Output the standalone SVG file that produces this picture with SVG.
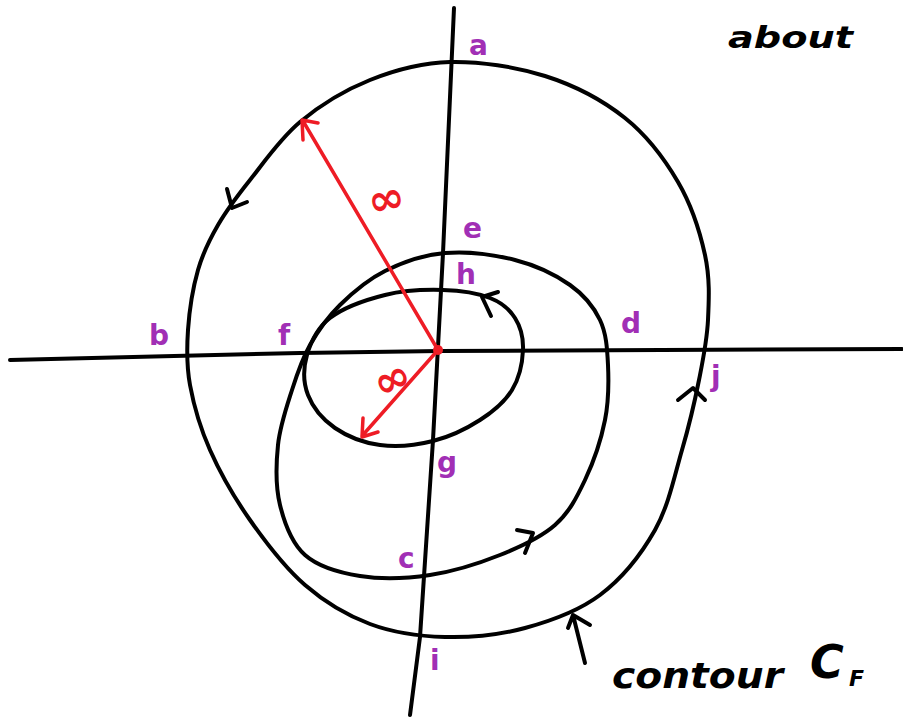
<svg xmlns="http://www.w3.org/2000/svg" width="903" height="719" viewBox="0 0 903 719">
<style>
.k{fill:none;stroke:#000;stroke-width:4;stroke-linecap:round;stroke-linejoin:round}
.r{fill:none;stroke:#ee1c25;stroke-width:3.5;stroke-linecap:round;stroke-linejoin:round}
.lbl{font-family:"DejaVu Sans","Liberation Sans",sans-serif;font-weight:bold;font-size:28px;fill:#a12fb5}
.hand{font-family:"DejaVu Sans","Liberation Sans",sans-serif;font-style:italic;font-weight:bold;fill:#000}
.rl{font-family:"DejaVu Sans",sans-serif;font-weight:bold;font-size:44px;fill:#ee1c25}
</style>
<rect width="903" height="719" fill="#fff"/>
<g id="axes">
<path class="k" d="M10,360 L300,353 L440,351 L902,349"/>
<path class="k" d="M454,8 L443,253 L433,440 L420,637 L410,715"/>
</g>
<g id="connectors">
<path id="outer" class="k" d="M450,62 C479.2,61.3 515.8,66.7 545,76 C574.2,85.3 602.8,100.3 625,118 C647.2,135.7 664.7,159.2 678,182 C691.3,204.8 700,232 705,255 C710,278 709,299.2 708,320 C707,340.8 703.3,358.3 699,380 C694.7,401.7 689.3,425 682,450 C674.7,475 668.7,505.8 655,530 C641.3,554.2 621.7,578.7 600,595 C578.3,611.3 550.8,621 525,628 C499.2,635 470.8,637.7 445,637 C419.2,636.3 393.3,632.7 370,624 C346.7,615.3 325,602.3 305,585 C285,567.7 265.8,542.5 250,520 C234.2,497.5 220,472.5 210,450 C200,427.5 193.7,405 190,385 C186.3,365 186.7,349.2 188,330 C189.3,310.8 193,287.5 198,270 C203,252.5 209.3,240 218,225 C226.7,210 236.3,197.2 250,180 C263.7,162.8 280,138.7 300,122 C320,105.3 345,90 370,80 C395,70 420.8,62.7 450,62 Z"/>
<path id="middle" class="k" d="M445,253 C466.7,251.2 494.2,254.7 515,260 C535.8,265.3 555.8,275 570,285 C584.2,295 593.7,306.7 600,320 C606.3,333.3 607.2,348.3 608,365 C608.8,381.7 608.8,400.8 605,420 C601.2,439.2 593.3,462.5 585,480 C576.7,497.5 569.2,512.5 555,525 C540.8,537.5 520.8,546.7 500,555 C479.2,563.3 453.3,571.5 430,575 C406.7,578.5 380.8,579.3 360,576 C339.2,572.7 318.3,566.8 305,555 C291.7,543.2 284.5,523.3 280,505 C275.5,486.7 276,464.2 278,445 C280,425.8 286.7,406.7 292,390 C297.3,373.3 302,359.2 310,345 C318,330.8 327.5,317.3 340,305 C352.5,292.7 367.5,279.7 385,271 C402.5,262.3 423.3,254.8 445,253 Z"/>
<path id="inner" class="k" d="M443,290 C460.5,290.5 478,293.3 490,298 C502,302.7 509.5,309.3 515,318 C520.5,326.7 523.5,338 523,350 C522.5,362 519.2,378.3 512,390 C504.8,401.7 493.2,411.5 480,420 C466.8,428.5 449.7,436.8 433,441 C416.3,445.2 396.3,447.2 380,445 C363.7,442.8 347,436.3 335,428 C323,419.7 312.7,407.2 308,395 C303.3,382.8 303.3,367.8 307,355 C310.7,342.2 317,328 330,318 C343,308 366.2,299.7 385,295 C403.8,290.3 425.5,289.5 443,290 Z"/>
<path class="k" d="M227,189 L232,208 L247,202"/>
<path class="k" d="M498,292 L482,297 L491,316"/>
<path class="k" d="M517,530 L533,533 L525,553"/>
<path class="k" d="M678,400 L693,388 L705,400"/>
<path class="k" d="M585,663 L573,615 M568,628 L573,615 L590,625"/>
</g>
<g id="radii">
<path class="r" d="M438,350 L303,121 M303,140 L302,120 L318,123"/>
<path class="r" d="M438,350 L362,436 M363,418 L362,437 L378,432"/>
<circle cx="438" cy="350" r="5" fill="#ee1c25"/>
<text class="rl" x="368" y="214" transform="rotate(-12 385 200)">∞</text>
<text class="rl" x="374" y="394" transform="rotate(-25 392 380)">∞</text>
</g>
<g id="labels">
<text class="lbl" x="469" y="55">a</text>
<text class="lbl" x="463" y="238">e</text>
<text class="lbl" x="456" y="284">h</text>
<text class="lbl" x="149" y="345">b</text>
<text class="lbl" x="278" y="345">f</text>
<text class="lbl" x="621" y="333">d</text>
<text class="lbl" x="711" y="386">j</text>
<text class="lbl" x="437" y="472">g</text>
<text class="lbl" x="398" y="568">c</text>
<text class="lbl" x="430" y="670">i</text>
</g>
<g id="notes">
<text class="hand" x="728" y="48" font-size="30" textLength="125" lengthAdjust="spacingAndGlyphs">about</text>
<text class="hand" x="612" y="688" font-size="36" textLength="171" lengthAdjust="spacingAndGlyphs">contour</text>
<text class="hand" x="810" y="678" font-size="46">C</text>
<text class="hand" x="849" y="686" font-size="22">F</text>
</g>
</svg>
